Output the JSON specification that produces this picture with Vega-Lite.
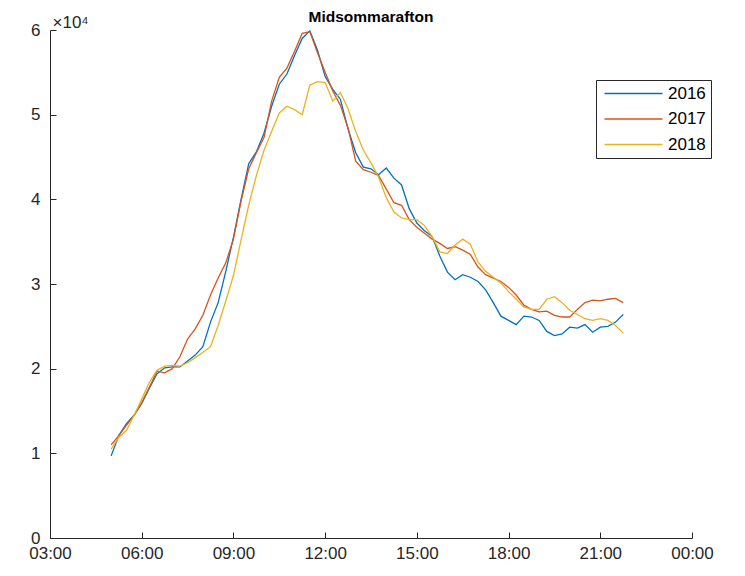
{
  "$schema": "https://vega.github.io/schema/vega-lite/v6.json",
  "width": 642,
  "height": 508,
  "autosize": {"type": "none"},
  "padding": {"left": 50, "top": 30, "right": 53, "bottom": 38},
  "background": "white",
  "title": {"text": "Midsommarafton", "fontSize": 15.5, "fontWeight": "bold", "font": "Liberation Sans", "color": "#000000", "offset": -12, "anchor": "middle"},
  "config": {"view": {"stroke": null}, "font": "Liberation Sans"},
  "data": {"values": [
    {"t": 5.00, "2016": 9700, "2017": 11000, "2018": 10500},
    {"t": 5.25, "2016": 12100, "2017": 12100, "2018": 11900},
    {"t": 5.50, "2016": 13500, "2017": 13300, "2018": 12700},
    {"t": 5.75, "2016": 14500, "2017": 14500, "2018": 14500},
    {"t": 6.00, "2016": 15900, "2017": 16000, "2018": 16400},
    {"t": 6.25, "2016": 17700, "2017": 17800, "2018": 18400},
    {"t": 6.50, "2016": 19400, "2017": 19700, "2018": 19800},
    {"t": 6.75, "2016": 20100, "2017": 19500, "2018": 20300},
    {"t": 7.00, "2016": 20200, "2017": 20000, "2018": 20400},
    {"t": 7.25, "2016": 20200, "2017": 21400, "2018": 20300},
    {"t": 7.50, "2016": 20900, "2017": 23500, "2018": 20700},
    {"t": 7.75, "2016": 21600, "2017": 24700, "2018": 21300},
    {"t": 8.00, "2016": 22600, "2017": 26300, "2018": 21900},
    {"t": 8.25, "2016": 25500, "2017": 28700, "2018": 22600},
    {"t": 8.50, "2016": 27800, "2017": 30700, "2018": 25100},
    {"t": 8.75, "2016": 31500, "2017": 32500, "2018": 28000},
    {"t": 9.00, "2016": 35500, "2017": 35300, "2018": 31000},
    {"t": 9.25, "2016": 40000, "2017": 39800, "2018": 35200},
    {"t": 9.50, "2016": 44200, "2017": 43600, "2018": 39300},
    {"t": 9.75, "2016": 45600, "2017": 45500, "2018": 42800},
    {"t": 10.00, "2016": 47800, "2017": 47300, "2018": 45800},
    {"t": 10.25, "2016": 51000, "2017": 51600, "2018": 48000},
    {"t": 10.50, "2016": 53600, "2017": 54400, "2018": 50200},
    {"t": 10.75, "2016": 54800, "2017": 55500, "2018": 51000},
    {"t": 11.00, "2016": 57000, "2017": 57500, "2018": 50600},
    {"t": 11.25, "2016": 59000, "2017": 59600, "2018": 50000},
    {"t": 11.50, "2016": 59900, "2017": 59800, "2018": 53500},
    {"t": 11.75, "2016": 57600, "2017": 57300, "2018": 53900},
    {"t": 12.00, "2016": 54500, "2017": 55000, "2018": 53800},
    {"t": 12.25, "2016": 53000, "2017": 52800, "2018": 51600},
    {"t": 12.50, "2016": 51800, "2017": 51100, "2018": 52600},
    {"t": 12.75, "2016": 48300, "2017": 48400, "2018": 50700},
    {"t": 13.00, "2016": 45500, "2017": 44500, "2018": 48000},
    {"t": 13.25, "2016": 43800, "2017": 43500, "2018": 45800},
    {"t": 13.50, "2016": 43600, "2017": 43200, "2018": 44300},
    {"t": 13.75, "2016": 42900, "2017": 42800, "2018": 42600},
    {"t": 14.00, "2016": 43700, "2017": 41200, "2018": 40200},
    {"t": 14.25, "2016": 42500, "2017": 39600, "2018": 38500},
    {"t": 14.50, "2016": 41700, "2017": 39300, "2018": 37800},
    {"t": 14.75, "2016": 38900, "2017": 37600, "2018": 37600},
    {"t": 15.00, "2016": 37200, "2017": 36700, "2018": 37600},
    {"t": 15.25, "2016": 36300, "2017": 36000, "2018": 36900},
    {"t": 15.50, "2016": 35600, "2017": 35300, "2018": 35600},
    {"t": 15.75, "2016": 33300, "2017": 34800, "2018": 33800},
    {"t": 16.00, "2016": 31400, "2017": 34200, "2018": 33600},
    {"t": 16.25, "2016": 30500, "2017": 34400, "2018": 34600},
    {"t": 16.50, "2016": 31100, "2017": 34000, "2018": 35300},
    {"t": 16.75, "2016": 30800, "2017": 33500, "2018": 34700},
    {"t": 17.00, "2016": 30300, "2017": 32000, "2018": 32600},
    {"t": 17.25, "2016": 29300, "2017": 31100, "2018": 31500},
    {"t": 17.50, "2016": 27800, "2017": 30700, "2018": 30800},
    {"t": 17.75, "2016": 26200, "2017": 30300, "2018": 30100},
    {"t": 18.00, "2016": 25700, "2017": 29600, "2018": 29100},
    {"t": 18.25, "2016": 25200, "2017": 28700, "2018": 28200},
    {"t": 18.50, "2016": 26200, "2017": 27500, "2018": 27300},
    {"t": 18.75, "2016": 26100, "2017": 27000, "2018": 27000},
    {"t": 19.00, "2016": 25700, "2017": 26700, "2018": 27000},
    {"t": 19.25, "2016": 24400, "2017": 26800, "2018": 28200},
    {"t": 19.50, "2016": 23900, "2017": 26300, "2018": 28500},
    {"t": 19.75, "2016": 24100, "2017": 26100, "2018": 27800},
    {"t": 20.00, "2016": 24900, "2017": 26100, "2018": 26900},
    {"t": 20.25, "2016": 24800, "2017": 27000, "2018": 26400},
    {"t": 20.50, "2016": 25200, "2017": 27800, "2018": 25900},
    {"t": 20.75, "2016": 24300, "2017": 28100, "2018": 25700},
    {"t": 21.00, "2016": 24900, "2017": 28000, "2018": 25900},
    {"t": 21.25, "2016": 25000, "2017": 28200, "2018": 25700},
    {"t": 21.50, "2016": 25500, "2017": 28300, "2018": 25100},
    {"t": 21.75, "2016": 26400, "2017": 27800, "2018": 24200}
  ]},
  "transform": [{"fold": ["2016", "2017", "2018"], "as": ["year", "count"]}],
  "mark": {"type": "line", "strokeWidth": 1.3},
  "encoding": {
    "x": {
      "field": "t", "type": "quantitative",
      "scale": {"domain": [3, 24], "nice": false, "zero": false},
      "axis": {
        "values": [3, 6, 9, 12, 15, 18, 21, 24],
        "labelExpr": "(datum.value % 24 < 10 ? '0' : '') + (datum.value % 24) + ':00'",
        "title": null, "grid": false,
        "tickSize": -6, "labelPadding": 13,
        "domainColor": "#262626", "tickColor": "#262626", "labelColor": "#262626",
        "labelFontSize": 17, "labelFont": "Liberation Sans", "labelFlush": false
      }
    },
    "y": {
      "field": "count", "type": "quantitative",
      "scale": {"domain": [0, 60000], "nice": false},
      "axis": {
        "values": [0, 10000, 20000, 30000, 40000, 50000, 60000],
        "labelExpr": "datum.value / 10000",
        "title": "×10⁴", "titleAngle": 0, "titleX": 2, "titleY": -3, "titleAlign": "left", "titleBaseline": "alphabetic",
        "titleFontSize": 17, "titleFontWeight": "normal", "titleColor": "#262626", "titleFont": "Liberation Sans",
        "grid": false,
        "tickSize": -6, "labelPadding": 16,
        "domainColor": "#262626", "tickColor": "#262626", "labelColor": "#262626",
        "labelFontSize": 17, "labelFont": "Liberation Sans", "labelFlush": false
      }
    },
    "color": {
      "field": "year", "type": "nominal",
      "scale": {"domain": ["2016", "2017", "2018"], "range": ["#0072BD", "#D95319", "#EDB120"]},
      "legend": {
        "orient": "none", "legendX": 546, "legendY": 50,
        "title": null,
        "strokeColor": "#262626", "fillColor": "white", "padding": 5,
        "symbolType": "M-1,0H10.6", "symbolSize": 100, "symbolStrokeWidth": 1.3,
        "labelOffset": 50, "labelFontSize": 17, "labelColor": "#000000", "labelFont": "Liberation Sans",
        "rowPadding": 7.5
      }
    }
  }
}
